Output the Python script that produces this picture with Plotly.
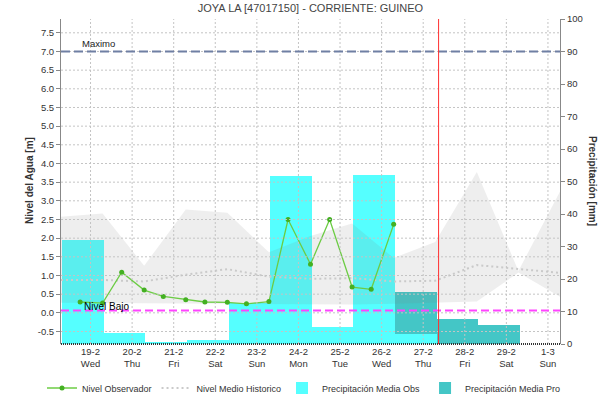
import plotly.graph_objects as go

# ---------------- data ----------------
title_text = "JOYA LA [47017150] - CORRIENTE: GUINEO"
day_ticks = [0, 1, 2, 3, 4, 5, 6, 7, 8, 9, 10, 11]
day_labels = ["19-2<br>Wed", "20-2<br>Thu", "21-2<br>Fri", "22-2<br>Sat", "23-2<br>Sun",
              "24-2<br>Mon", "25-2<br>Tue", "26-2<br>Wed", "27-2<br>Thu", "28-2<br>Fri",
              "29-2<br>Sat", "1-3<br>Sun"]

# observed level (m), every 12 h (day index + fraction)
obs_x = [-0.25, 0.29, 0.75, 1.29, 1.75, 2.29, 2.75, 3.29, 3.75, 4.29, 4.75, 5.29, 5.75, 6.29, 6.75, 7.29]
obs_level = [0.29, 0.26, 1.09, 0.61, 0.44, 0.35, 0.29, 0.28, 0.24, 0.30, 2.50, 1.30, 2.50, 0.69, 0.63, 2.37]

# historic level (m), daily at 07:00
hist_x = [-0.71, 0.29, 1.29, 2.29, 3.29, 4.29, 5.29, 6.29, 7.29, 8.29, 9.29, 10.29, 11.29]
hist_mean = [0.88, 0.88, 0.84, 1.02, 1.17, 0.97, 0.91, 0.93, 0.84, 0.86, 1.28, 1.17, 1.07]
hist_max = [2.57, 2.66, 1.26, 2.77, 2.68, 1.62, 2.06, 2.39, 1.47, 1.90, 3.77, 1.12, 3.25]
hist_min = [0.27, 0.27, 0.26, 0.25, 0.24, 0.23, 0.22, 0.22, 0.24, 0.26, 0.30, 1.08, 0.43]

# precipitation (mm), daily bars
prec_obs_x = [-0.18, 0.82, 1.82, 2.82, 3.82, 4.82, 5.82, 6.82, 7.82]
prec_obs = [32.0, 3.3, 0.7, 1.2, 12.7, 51.6, 5.1, 52.0, 3.1]
prec_pro_x = [7.82, 8.82, 9.82]
prec_pro = [16.0, 7.7, 5.8]

level_max = 7.0
level_low = 0.06
now_x = 8.37
level_ticks = [-0.5, 0.0, 0.5, 1.0, 1.5, 2.0, 2.5, 3.0, 3.5, 4.0, 4.5, 5.0, 5.5, 6.0, 6.5, 7.0, 7.5]
prec_ticks = [0, 10, 20, 30, 40, 50, 60, 70, 80, 90, 100]

FONT = "Liberation Sans, Arial, sans-serif"

fig = go.Figure()

# precipitation bars on base axis (right)
fig.add_trace(go.Bar(x=prec_pro_x, y=prec_pro, width=1.0, name="Precipitación Media Pro",
                     marker=dict(color="#44c6c6", line=dict(width=0)), yaxis="y",
                     legend="legend2", legendrank=4))
fig.add_trace(go.Bar(x=prec_obs_x, y=prec_obs, width=1.0, name="Precipitación Media Obs",
                     marker=dict(color="#55ffff", line=dict(width=0)), yaxis="y",
                     legend="legend2", legendrank=3))

# historic band on overlay axis (left)
fig.add_trace(go.Scatter(x=hist_x, y=hist_min, mode="lines", line=dict(width=0),
                         showlegend=False, hoverinfo="skip", yaxis="y2"))
fig.add_trace(go.Scatter(x=hist_x, y=hist_max, mode="lines", line=dict(width=0),
                         fill="tonexty", fillcolor="rgba(120,120,120,0.13)",
                         showlegend=False, hoverinfo="skip", yaxis="y2"))
fig.add_trace(go.Scatter(x=hist_x, y=hist_mean, mode="lines", name="Nivel Medio Historico",
                         line=dict(color="#cacaca", width=2, dash="2px,3px"), yaxis="y2",
                         legend="legend", legendrank=2))
fig.add_trace(go.Scatter(x=obs_x, y=obs_level, mode="lines+markers", name="Nivel Observador",
                         line=dict(color="#6ccc44", width=1.3),
                         marker=dict(color="#44b022", size=5), yaxis="y2",
                         legend="legend", legendrank=1))

shapes = []
for t in day_ticks:
    shapes.append(dict(type="line", xref="x", yref="paper", x0=t, x1=t, y0=0, y1=1,
                       line=dict(color="#c4c4c4", width=1, dash="2px,2px"), layer="above"))
for t in level_ticks:
    shapes.append(dict(type="line", xref="paper", yref="y2", x0=0, x1=1, y0=t, y1=t,
                       line=dict(color="#c4c4c4", width=1, dash="2px,2px"), layer="above"))
shapes.append(dict(type="line", xref="paper", yref="y2", x0=0, x1=1, y0=level_max, y1=level_max,
                   line=dict(color="#6f7fa3", width=2, dash="9px,4px"), layer="above"))
shapes.append(dict(type="line", xref="paper", yref="y2", x0=0, x1=1, y0=level_low, y1=level_low,
                   line=dict(color="#ff44ff", width=2, dash="8px,4px"), layer="above"))
shapes.append(dict(type="line", xref="x", yref="paper", x0=now_x, x1=now_x, y0=0, y1=1,
                   line=dict(color="#ff3030", width=1), layer="above"))
shapes.append(dict(type="line", xref="paper", yref="paper", x0=0, x1=1, y0=0, y1=0,
                   line=dict(color="#333333", width=2, dash="1px,1px"), layer="above"))

annotations = [
    dict(text="Maximo", x=-0.25, y=level_max, xref="x", yref="y2", xanchor="left", yanchor="bottom",
         showarrow=False, font=dict(family=FONT, size=9.5, color="#222")),
    dict(text="Nivel Bajo", x=-0.21, y=level_low, xref="x", yref="y2", xanchor="left", yanchor="bottom",
         yshift=-3, showarrow=False, font=dict(family=FONT, size=10, color="#000")),
    dict(text="<b>Nivel del Agua [m]</b>", x=29, y=181, xref="paper", yref="paper",
         xanchor="center", yanchor="middle",
         showarrow=False, textangle=-90, font=dict(family=FONT, size=10, color="#333")),
    dict(text="<b>Precipitación [mm]</b>", x=593, y=181, xref="paper", yref="paper",
         xanchor="center", yanchor="middle",
         showarrow=False, textangle=90, font=dict(family=FONT, size=10, color="#333")),
]
# convert pixel positions for axis-title annotations into paper coordinates
L, R, T, B = 61, 53, 19, 65
W, H = 613, 409
pw, ph = W - L - R, H - T - B
for a in annotations[2:]:
    a["x"] = (a["x"] - L) / pw
    a["y"] = (H - B - a["y"]) / ph

legend_style = dict(orientation="h", traceorder="normal", xref="container", yref="container",
                    xanchor="left", yanchor="middle", y=1 - 388 / H,
                    font=dict(family=FONT, size=9, color="#333"),
                    itemwidth=30, tracegroupgap=0, bgcolor="rgba(0,0,0,0)")

fig.update_layout(
    width=W, height=H,
    margin=dict(l=L, r=R, t=T, b=B, autoexpand=False),
    paper_bgcolor="white", plot_bgcolor="white",
    barmode="overlay", bargap=0,
    font=dict(family=FONT, size=10, color="#333"),
    title=dict(text=title_text, x=(L + pw / 2) / W, xanchor="center", y=1 - 8 / H, yanchor="middle",
               font=dict(family=FONT, size=11, color="#444")),
    xaxis=dict(range=[-0.71, 11.29], tickvals=day_ticks, ticktext=day_labels, showgrid=False,
               zeroline=False, showline=False, ticks="", automargin=False,
               tickfont=dict(size=9.5, color="#333")),
    yaxis=dict(range=[0, 100], side="right", tickvals=prec_ticks, showgrid=False, zeroline=False,
               showline=True, linecolor="#888", linewidth=1, ticks="outside", ticklen=4,
               tickcolor="#888", automargin=False, tickfont=dict(size=9.5, color="#333")),
    yaxis2=dict(range=[-0.835, 7.87], side="left", overlaying="y", tickvals=level_ticks,
                ticktext=["%.1f" % v for v in level_ticks], showgrid=False, zeroline=False,
                showline=True, linecolor="#888", linewidth=1, ticks="outside", ticklen=4,
                tickcolor="#888", automargin=False, tickfont=dict(size=9.5, color="#333")),
    legend=dict(legend_style, x=42 / W),
    legend2=dict(legend_style, x=282 / W),
    shapes=shapes,
    annotations=annotations,
    hovermode=False,
)

fig.write_html("out.html", config={"displayModeBar": False},
               post_script="document.body.style.margin='0px';")
